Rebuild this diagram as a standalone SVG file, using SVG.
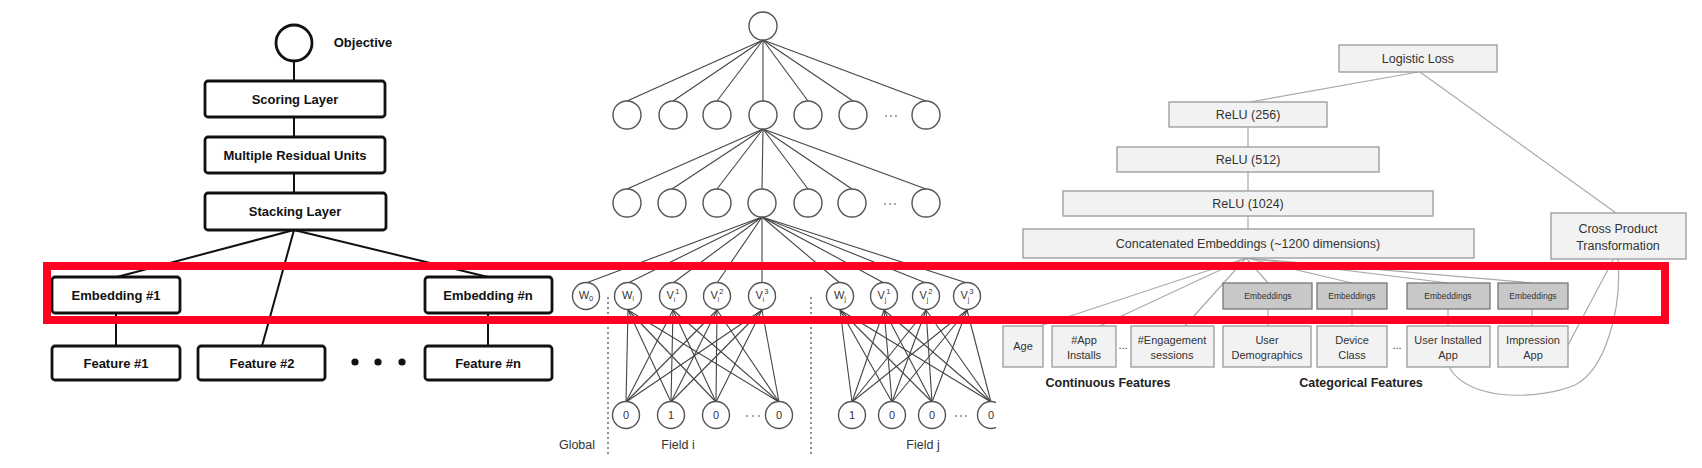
<svg xmlns="http://www.w3.org/2000/svg" width="1702" height="468" viewBox="0 0 1702 468">
<style>
.hb{fill:#fff;stroke:#111;stroke-width:2.8}
.hl{stroke:#111;stroke-width:2;fill:none}
.ht{font-family:"Liberation Sans",Arial,sans-serif;font-weight:bold;font-size:13px;fill:#111;text-anchor:middle}
.nc{fill:#fff;stroke:#555;stroke-width:1.4}
.nl{stroke:#444;stroke-width:1.1;fill:none}
.nt{font-family:"Liberation Sans",Arial,sans-serif;font-size:11px;fill:#333;text-anchor:middle}
.lt{font-family:"Liberation Sans",Arial,sans-serif;font-size:12.5px;fill:#333;text-anchor:middle}
.dd{fill:#888}
.sep{stroke:#555;stroke-width:1.3;stroke-dasharray:2 3}
.wb{fill:#f2f2f2;stroke:#999;stroke-width:1.3}
.eb{fill:#c8c8c8;stroke:#777;stroke-width:1.3}
.wl{stroke:#aaa;stroke-width:1.2;fill:none}
.wt{font-family:"Liberation Sans",Arial,sans-serif;font-size:12.5px;fill:#333;text-anchor:middle}
.ft{font-family:"Liberation Sans",Arial,sans-serif;font-size:11px;fill:#333;text-anchor:middle}
.et{font-family:"Liberation Sans",Arial,sans-serif;font-size:8.5px;fill:#333;text-anchor:middle}
.bt{font-family:"Liberation Sans",Arial,sans-serif;font-size:12.5px;font-weight:bold;fill:#222;text-anchor:middle}
</style>
<defs>
<clipPath id="clipR"><rect x="0" y="0" width="996" height="468"/></clipPath>
</defs>
<rect width="1702" height="468" fill="#fff"/>

<!-- ===== Left panel connectors ===== -->
<g id="left-connectors">
<line class="hl" x1="294" y1="61" x2="294" y2="81"/>
<line class="hl" x1="294" y1="117" x2="294" y2="137"/>
<line class="hl" x1="294" y1="173" x2="294" y2="193"/>
<line class="hl" x1="294" y1="230" x2="117" y2="277"/>
<line class="hl" x1="294" y1="230" x2="262" y2="346"/>
<line class="hl" x1="294" y1="230" x2="488" y2="277"/>
<line class="hl" x1="116" y1="313" x2="116" y2="346"/>
<line class="hl" x1="488" y1="313" x2="488" y2="346"/>
</g>
<g id="objective">
<circle cx="294" cy="43" r="18" fill="#fff" stroke="#111" stroke-width="2.8"/>
<text class="ht" x="363" y="47" font-size="12.5">Objective</text>
</g>
<g id="scoring"><rect class="hb" x="205" y="81" width="180" height="36" rx="3"/><text class="ht" x="295" y="103.5">Scoring Layer</text></g>
<g id="residual"><rect class="hb" x="205" y="137" width="180" height="36" rx="3"/><text class="ht" x="295" y="159.5">Multiple Residual Units</text></g>
<g id="stacking"><rect class="hb" x="205" y="193" width="181" height="37" rx="3"/><text class="ht" x="295" y="216">Stacking Layer</text></g>
<g id="emb1"><rect class="hb" x="52" y="277" width="128" height="36" rx="3"/><text class="ht" x="116" y="299.5">Embedding #1</text></g>
<g id="embn"><rect class="hb" x="425" y="277" width="127" height="36" rx="3"/><text class="ht" x="488" y="299.5">Embedding #n</text></g>
<g id="feat1"><rect class="hb" x="52" y="346" width="128" height="34" rx="3"/><text class="ht" x="116" y="367.5">Feature #1</text></g>
<g id="feat2"><rect class="hb" x="198" y="346" width="127" height="34" rx="3"/><text class="ht" x="262" y="367.5">Feature #2</text></g>
<g id="featn"><rect class="hb" x="425" y="346" width="127" height="34" rx="3"/><text class="ht" x="488" y="367.5">Feature #n</text></g>
<g id="left-dots" fill="#111"><circle cx="355" cy="362" r="3.6"/><circle cx="378" cy="362" r="3.6"/><circle cx="402" cy="362" r="3.6"/></g>

<!-- ===== Middle panel ===== -->
<g id="mid-connectors">
<g>
<line class="nl" x1="763" y1="40" x2="627" y2="101"/>
<line class="nl" x1="763" y1="40" x2="673" y2="101"/>
<line class="nl" x1="763" y1="40" x2="717" y2="101"/>
<line class="nl" x1="763" y1="40" x2="763" y2="101"/>
<line class="nl" x1="763" y1="40" x2="808" y2="101"/>
<line class="nl" x1="763" y1="40" x2="853" y2="101"/>
<line class="nl" x1="763" y1="40" x2="926" y2="101"/>
</g>
<g>
<line class="nl" x1="763" y1="129" x2="627" y2="189"/>
<line class="nl" x1="763" y1="129" x2="672" y2="189"/>
<line class="nl" x1="763" y1="129" x2="717" y2="189"/>
<line class="nl" x1="763" y1="129" x2="762" y2="189"/>
<line class="nl" x1="763" y1="129" x2="808" y2="189"/>
<line class="nl" x1="763" y1="129" x2="852" y2="189"/>
<line class="nl" x1="763" y1="129" x2="926" y2="189"/>
</g>
<g>
<line class="nl" x1="762" y1="217" x2="586" y2="283"/>
<line class="nl" x1="762" y1="217" x2="628" y2="283"/>
<line class="nl" x1="762" y1="217" x2="673" y2="283"/>
<line class="nl" x1="762" y1="217" x2="717" y2="283"/>
<line class="nl" x1="762" y1="217" x2="762" y2="283"/>
<line class="nl" x1="762" y1="217" x2="840" y2="283"/>
<line class="nl" x1="762" y1="217" x2="884" y2="283"/>
<line class="nl" x1="762" y1="217" x2="926" y2="283"/>
<line class="nl" x1="762" y1="217" x2="967" y2="283"/>
</g>
<g>
<line class="nl" x1="628" y1="310" x2="626" y2="402"/><line class="nl" x1="628" y1="310" x2="671" y2="402"/><line class="nl" x1="628" y1="310" x2="716" y2="402"/><line class="nl" x1="628" y1="310" x2="779" y2="402"/>
<line class="nl" x1="673" y1="310" x2="626" y2="402"/><line class="nl" x1="673" y1="310" x2="671" y2="402"/><line class="nl" x1="673" y1="310" x2="716" y2="402"/><line class="nl" x1="673" y1="310" x2="779" y2="402"/>
<line class="nl" x1="717" y1="310" x2="626" y2="402"/><line class="nl" x1="717" y1="310" x2="671" y2="402"/><line class="nl" x1="717" y1="310" x2="716" y2="402"/><line class="nl" x1="717" y1="310" x2="779" y2="402"/>
<line class="nl" x1="762" y1="310" x2="626" y2="402"/><line class="nl" x1="762" y1="310" x2="671" y2="402"/><line class="nl" x1="762" y1="310" x2="716" y2="402"/><line class="nl" x1="762" y1="310" x2="779" y2="402"/>
</g>
<g clip-path="url(#clipR)">
<line class="nl" x1="840" y1="310" x2="852" y2="402"/><line class="nl" x1="840" y1="310" x2="892" y2="402"/><line class="nl" x1="840" y1="310" x2="932" y2="402"/><line class="nl" x1="840" y1="310" x2="991" y2="402"/>
<line class="nl" x1="884" y1="310" x2="852" y2="402"/><line class="nl" x1="884" y1="310" x2="892" y2="402"/><line class="nl" x1="884" y1="310" x2="932" y2="402"/><line class="nl" x1="884" y1="310" x2="991" y2="402"/>
<line class="nl" x1="926" y1="310" x2="852" y2="402"/><line class="nl" x1="926" y1="310" x2="892" y2="402"/><line class="nl" x1="926" y1="310" x2="932" y2="402"/><line class="nl" x1="926" y1="310" x2="991" y2="402"/>
<line class="nl" x1="967" y1="310" x2="852" y2="402"/><line class="nl" x1="967" y1="310" x2="892" y2="402"/><line class="nl" x1="967" y1="310" x2="932" y2="402"/><line class="nl" x1="967" y1="310" x2="991" y2="402"/>
</g>
<line class="sep" x1="608" y1="297" x2="608" y2="455"/>
<line class="sep" x1="811" y1="297" x2="811" y2="455"/>
</g>

<g id="mid-top"><circle class="nc" cx="763" cy="26" r="14"/></g>
<g id="mid-row1">
<circle class="nc" cx="627" cy="115" r="14"/><circle class="nc" cx="673" cy="115" r="14"/><circle class="nc" cx="717" cy="115" r="14"/><circle class="nc" cx="763" cy="115" r="14"/><circle class="nc" cx="808" cy="115" r="14"/><circle class="nc" cx="853" cy="115" r="14"/><circle class="nc" cx="926" cy="115" r="14"/>
<circle class="dd" cx="886" cy="116" r="1"/><circle class="dd" cx="891" cy="116" r="1"/><circle class="dd" cx="896" cy="116" r="1"/>
</g>
<g id="mid-row2">
<circle class="nc" cx="627" cy="203" r="14"/><circle class="nc" cx="672" cy="203" r="14"/><circle class="nc" cx="717" cy="203" r="14"/><circle class="nc" cx="762" cy="203" r="14"/><circle class="nc" cx="808" cy="203" r="14"/><circle class="nc" cx="852" cy="203" r="14"/><circle class="nc" cx="926" cy="203" r="14"/>
<circle class="dd" cx="885" cy="204" r="1"/><circle class="dd" cx="890" cy="204" r="1"/><circle class="dd" cx="895" cy="204" r="1"/>
</g>
<g id="mid-weights">
<circle class="nc" cx="586" cy="296" r="13.5"/><text class="nt" x="586" y="299">W<tspan font-size="7.5" dy="2">0</tspan></text>
<circle class="nc" cx="628" cy="296" r="13.5"/><text class="nt" x="628" y="299">W<tspan font-size="6.5" dy="2">i</tspan></text>
<circle class="nc" cx="673" cy="296" r="13.5"/><text class="nt" x="673" y="299">V<tspan font-size="6.5" dy="3">i</tspan><tspan font-size="7.5" dy="-8">1</tspan></text>
<circle class="nc" cx="717" cy="296" r="13.5"/><text class="nt" x="717" y="299">V<tspan font-size="6.5" dy="3">i</tspan><tspan font-size="7.5" dy="-8">2</tspan></text>
<circle class="nc" cx="762" cy="296" r="13.5"/><text class="nt" x="762" y="299">V<tspan font-size="6.5" dy="3">i</tspan><tspan font-size="7.5" dy="-8">3</tspan></text>
<circle class="nc" cx="840" cy="296" r="13.5"/><text class="nt" x="840" y="299">W<tspan font-size="6.5" dy="2">j</tspan></text>
<circle class="nc" cx="884" cy="296" r="13.5"/><text class="nt" x="884" y="299">V<tspan font-size="6.5" dy="3">j</tspan><tspan font-size="7.5" dy="-8">1</tspan></text>
<circle class="nc" cx="926" cy="296" r="13.5"/><text class="nt" x="926" y="299">V<tspan font-size="6.5" dy="3">j</tspan><tspan font-size="7.5" dy="-8">2</tspan></text>
<circle class="nc" cx="967" cy="296" r="13.5"/><text class="nt" x="967" y="299">V<tspan font-size="6.5" dy="3">j</tspan><tspan font-size="7.5" dy="-8">3</tspan></text>
</g>
<g id="mid-inputs">
<circle class="nc" cx="626" cy="415" r="13.5"/><text class="nt" x="626" y="419">0</text>
<circle class="nc" cx="671" cy="415" r="13.5"/><text class="nt" x="671" y="419">1</text>
<circle class="nc" cx="716" cy="415" r="13.5"/><text class="nt" x="716" y="419">0</text>
<circle class="dd" cx="747" cy="416" r="1"/><circle class="dd" cx="753" cy="416" r="1"/><circle class="dd" cx="759" cy="416" r="1"/>
<circle class="nc" cx="779" cy="415" r="13.5"/><text class="nt" x="779" y="419">0</text>
<circle class="nc" cx="852" cy="415" r="13.5"/><text class="nt" x="852" y="419">1</text>
<circle class="nc" cx="892" cy="415" r="13.5"/><text class="nt" x="892" y="419">0</text>
<circle class="nc" cx="932" cy="415" r="13.5"/><text class="nt" x="932" y="419">0</text>
<circle class="dd" cx="956" cy="416" r="1"/><circle class="dd" cx="961" cy="416" r="1"/><circle class="dd" cx="966" cy="416" r="1"/>
<g clip-path="url(#clipR)"><circle class="nc" cx="991" cy="415" r="13.5"/><text class="nt" x="991" y="419">0</text></g>
</g>
<g id="mid-labels">
<text class="lt" x="577" y="449">Global</text>
<text class="lt" x="678" y="449">Field i</text>
<text class="lt" x="923" y="449">Field j</text>
</g>

<!-- ===== Right panel ===== -->
<g id="wd-connectors">
<line class="wl" x1="1418" y1="72" x2="1250" y2="102"/>
<line class="wl" x1="1420" y1="72" x2="1616" y2="213"/>
<line class="wl" x1="1248" y1="127" x2="1248" y2="147"/>
<line class="wl" x1="1248" y1="172" x2="1248" y2="191"/>
<line class="wl" x1="1248" y1="216" x2="1248" y2="229"/>
<line class="wl" x1="1246" y1="258" x2="1040" y2="326"/>
<line class="wl" x1="1246" y1="258" x2="1100" y2="326"/>
<line class="wl" x1="1246" y1="258" x2="1185" y2="326"/>
<line class="wl" x1="1246" y1="258" x2="1268" y2="283"/>
<line class="wl" x1="1246" y1="258" x2="1352" y2="283"/>
<line class="wl" x1="1246" y1="258" x2="1448" y2="283"/>
<line class="wl" x1="1246" y1="258" x2="1532" y2="283"/>
<line class="wl" x1="1268" y1="309" x2="1268" y2="326"/>
<line class="wl" x1="1352" y1="309" x2="1352" y2="326"/>
<line class="wl" x1="1448" y1="309" x2="1448" y2="326"/>
<line class="wl" x1="1532" y1="309" x2="1532" y2="326"/>
<line class="wl" x1="1568" y1="345" x2="1613" y2="260"/>
<path class="wl" d="M1449,367 C1468,402 1540,400 1575,385 C1605,370 1622,310 1618,259"/>
</g>
<g id="logloss"><rect class="wb" x="1339" y="45" width="158" height="27"/><text class="wt" x="1418" y="63">Logistic Loss</text></g>
<g id="relu256"><rect class="wb" x="1169" y="102" width="158" height="25"/><text class="wt" x="1248" y="119">ReLU (256)</text></g>
<g id="relu512"><rect class="wb" x="1117" y="147" width="262" height="25"/><text class="wt" x="1248" y="164">ReLU (512)</text></g>
<g id="relu1024"><rect class="wb" x="1063" y="191" width="370" height="25"/><text class="wt" x="1248" y="208">ReLU (1024)</text></g>
<g id="concat"><rect class="wb" x="1023" y="229" width="451" height="29"/><text class="wt" x="1248" y="248">Concatenated Embeddings (~1200 dimensions)</text></g>
<g id="crossprod"><rect class="wb" x="1551" y="213" width="135" height="46"/><text class="wt" x="1618" y="233">Cross Product</text><text class="wt" x="1618" y="250">Transformation</text></g>
<g id="emb-a"><rect class="eb" x="1223" y="283" width="89" height="26"/><text class="et" x="1268" y="299">Embeddings</text></g>
<g id="emb-b"><rect class="eb" x="1317" y="283" width="70" height="26"/><text class="et" x="1352" y="299">Embeddings</text></g>
<g id="emb-c"><rect class="eb" x="1407" y="283" width="83" height="26"/><text class="et" x="1448" y="299">Embeddings</text></g>
<g id="emb-d"><rect class="eb" x="1498" y="283" width="70" height="26"/><text class="et" x="1533" y="299">Embeddings</text></g>
<g id="f-age"><rect class="wb" x="1003" y="326" width="40" height="41"/><text class="ft" x="1023" y="350">Age</text></g>
<g id="f-app"><rect class="wb" x="1052" y="326" width="64" height="41"/><text class="ft" x="1084" y="344">#App</text><text class="ft" x="1084" y="358.5">Installs</text></g>
<text class="ft" x="1123" y="349">...</text>
<g id="f-eng"><rect class="wb" x="1131" y="326" width="83" height="41"/><text class="ft" x="1172" y="344">#Engagement</text><text class="ft" x="1172" y="358.5">sessions</text></g>
<g id="f-user"><rect class="wb" x="1223" y="326" width="88" height="41"/><text class="ft" x="1267" y="344">User</text><text class="ft" x="1267" y="358.5">Demographics</text></g>
<g id="f-dev"><rect class="wb" x="1317" y="326" width="70" height="41"/><text class="ft" x="1352" y="344">Device</text><text class="ft" x="1352" y="358.5">Class</text></g>
<text class="ft" x="1397" y="349">...</text>
<g id="f-ins"><rect class="wb" x="1407" y="326" width="83" height="41"/><text class="ft" x="1448" y="344">User Installed</text><text class="ft" x="1448" y="358.5">App</text></g>
<g id="f-imp"><rect class="wb" x="1498" y="326" width="70" height="41"/><text class="ft" x="1533" y="344">Impression</text><text class="ft" x="1533" y="358.5">App</text></g>
<text class="bt" x="1108" y="387">Continuous Features</text>
<text class="bt" x="1361" y="387">Categorical Features</text>

<!-- ===== Highlight ===== -->
<rect id="highlight" x="47" y="266" width="1618" height="54" fill="none" stroke="#ff0022" stroke-width="8"/>
</svg>
